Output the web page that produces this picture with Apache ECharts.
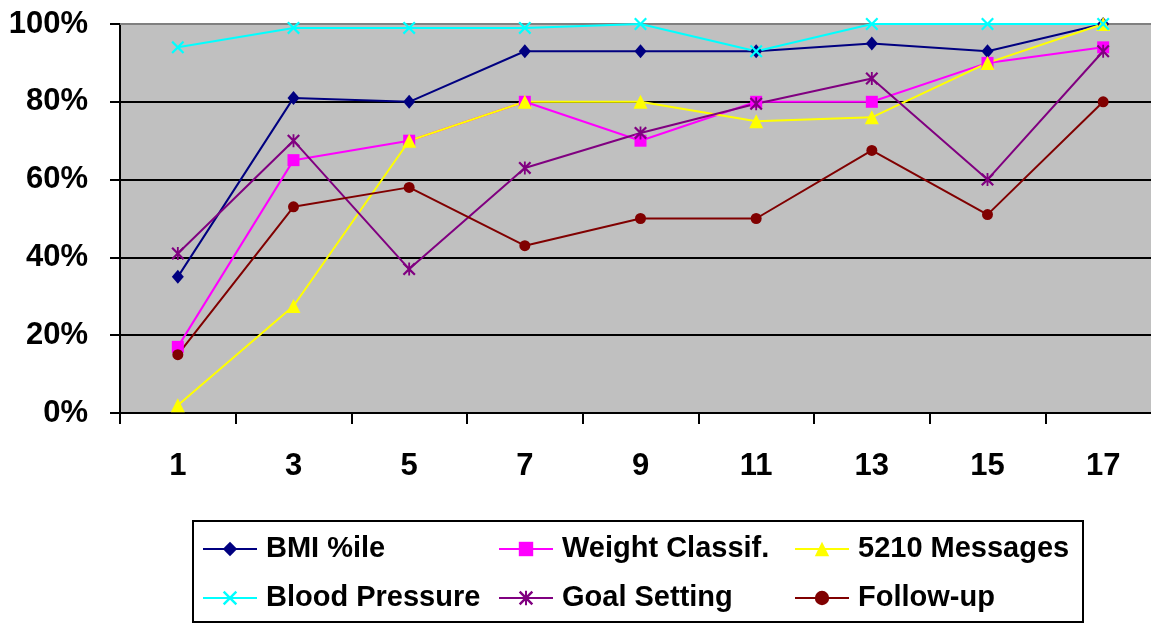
<!DOCTYPE html>
<html>
<head>
<meta charset="utf-8">
<script src="https://cdn.jsdelivr.net/npm/echarts@6/dist/echarts.min.js"></script>
<style>
html,body{margin:0;padding:0;background:#fff;}
#chart{width:1151px;height:623px;}
</style>
</head>
<body>
<div id="chart"></div>
<script>
var categories = ['1','3','5','7','9','11','13','15','17'];
var seriesNames = ['BMI %ile','Weight Classif.','5210 Messages','Blood Pressure','Goal Setting','Follow-up'];
var bmi = [35, 81, 80, 93, 93, 93, 95, 93, 100];
var weightClassif = [17, 65, 70, 80, 70, 80, 80, 90, 94];
var messages5210 = [2, 27.5, 70, 80, 80, 75, 76, 90, 100];
var bloodPressure = [94, 99, 99, 99, 100, 93, 100, 100, 100];
var goalSetting = [41, 70, 37, 63, 72, 79.5, 86, 60, 93];
var followUp = [15, 53, 58, 43, 50, 50, 67.5, 51, 80];
var yTicks = [0, 20, 40, 60, 80, 100];

var FONT = 'Arial, "Liberation Sans", sans-serif';
var xPath = 'path://M0,1.2L1.2,0L5,3.8L8.8,0L10,1.2L6.2,5L10,8.8L8.8,10L5,6.2L1.2,10L0,8.8L3.8,5Z';
var starPath = 'path://M0,1.2L1.2,0L5,3.8L8.8,0L10,1.2L6.2,5L10,8.8L8.8,10L5,6.2L1.2,10L0,8.8L3.8,5Z M4.3,0L5.7,0L5.7,10L4.3,10Z';

function mk(name, data, color, symbol, size) {
  return {
    name: name, type: 'line', data: data,
    symbol: symbol, symbolSize: size,
    showAllSymbol: true,
    lineStyle: {color: color, width: 2},
    itemStyle: {color: color},
    emphasis: {disabled: true}
  };
}

var chart = echarts.init(document.getElementById('chart'), null, {renderer: 'canvas'});
function legendCol(left, names) {
  return {
    show: true, orient: 'vertical', left: left, top: 534, padding: 0,
    itemWidth: 54, itemHeight: 18, itemGap: 19,
    data: names,
    selectedMode: false,
    textStyle: {fontFamily: FONT, fontWeight: 'bold', fontSize: 29, color: '#000', lineHeight: 30, padding: [0,0,0,4]}
  };
}
var option = {
  animation: false,
  backgroundColor: '#fff',
  grid: {left: 120, top: 24, width: 1041, bottom: 210, show: true, backgroundColor: '#C0C0C0', borderWidth: 0, containLabel: false, outerBoundsMode: 'none'},
  xAxis: [{
    type: 'category', data: categories, boundaryGap: true, position: 'bottom',
    axisLine: {show: true, lineStyle: {color: '#000', width: 2}},
    axisTick: {show: true, inside: false, length: 11, lineStyle: {color: '#000', width: 2}},
    axisLabel: {show: true, margin: 38, fontFamily: FONT, fontWeight: 'bold', fontSize: 31, color: '#000', interval: 0},
    splitLine: {show: false}
  }, {
    type: 'category', data: categories, boundaryGap: true, position: 'top',
    axisLine: {show: true, lineStyle: {color: '#808080', width: 2}},
    axisTick: {show: false}, axisLabel: {show: false}, splitLine: {show: false}
  }],
  yAxis: {
    type: 'value', min: yTicks[0], max: yTicks[yTicks.length-1], interval: 20,
    axisLine: {show: true, lineStyle: {color: '#000', width: 2}},
    axisTick: {show: true, inside: false, length: 10, lineStyle: {color: '#000', width: 2}},
    axisLabel: {margin: 32, fontFamily: FONT, fontWeight: 'bold', fontSize: 31, color: '#000', formatter: '{value}%'},
    splitLine: {show: true, showMaxLine: false, showMinLine: false, lineStyle: {color: '#000', width: 2}}
  },
  legend: [
    legendCol(202, [seriesNames[0], seriesNames[3]]),
    legendCol(498, [seriesNames[1], seriesNames[4]]),
    legendCol(794, [seriesNames[2], seriesNames[5]])
  ],
  graphic: [{
    type: 'rect', left: 192, top: 520, z: -1,
    shape: {width: 890, height: 101},
    style: {fill: '#fff', stroke: '#000', lineWidth: 2}
  }],
  series: [
    mk(seriesNames[0], bmi, '#000080', 'diamond', [12, 14]),
    mk(seriesNames[1], weightClassif, '#FF00FF', 'rect', 12),
    mk(seriesNames[2], messages5210, '#FFFF00', 'triangle', 14),
    mk(seriesNames[3], bloodPressure, '#00FFFF', xPath, 13),
    mk(seriesNames[4], goalSetting, '#800080', starPath, 13),
    mk(seriesNames[5], followUp, '#800000', 'circle', 11)
  ]
};
chart.setOption(option);
</script>
</body>
</html>
